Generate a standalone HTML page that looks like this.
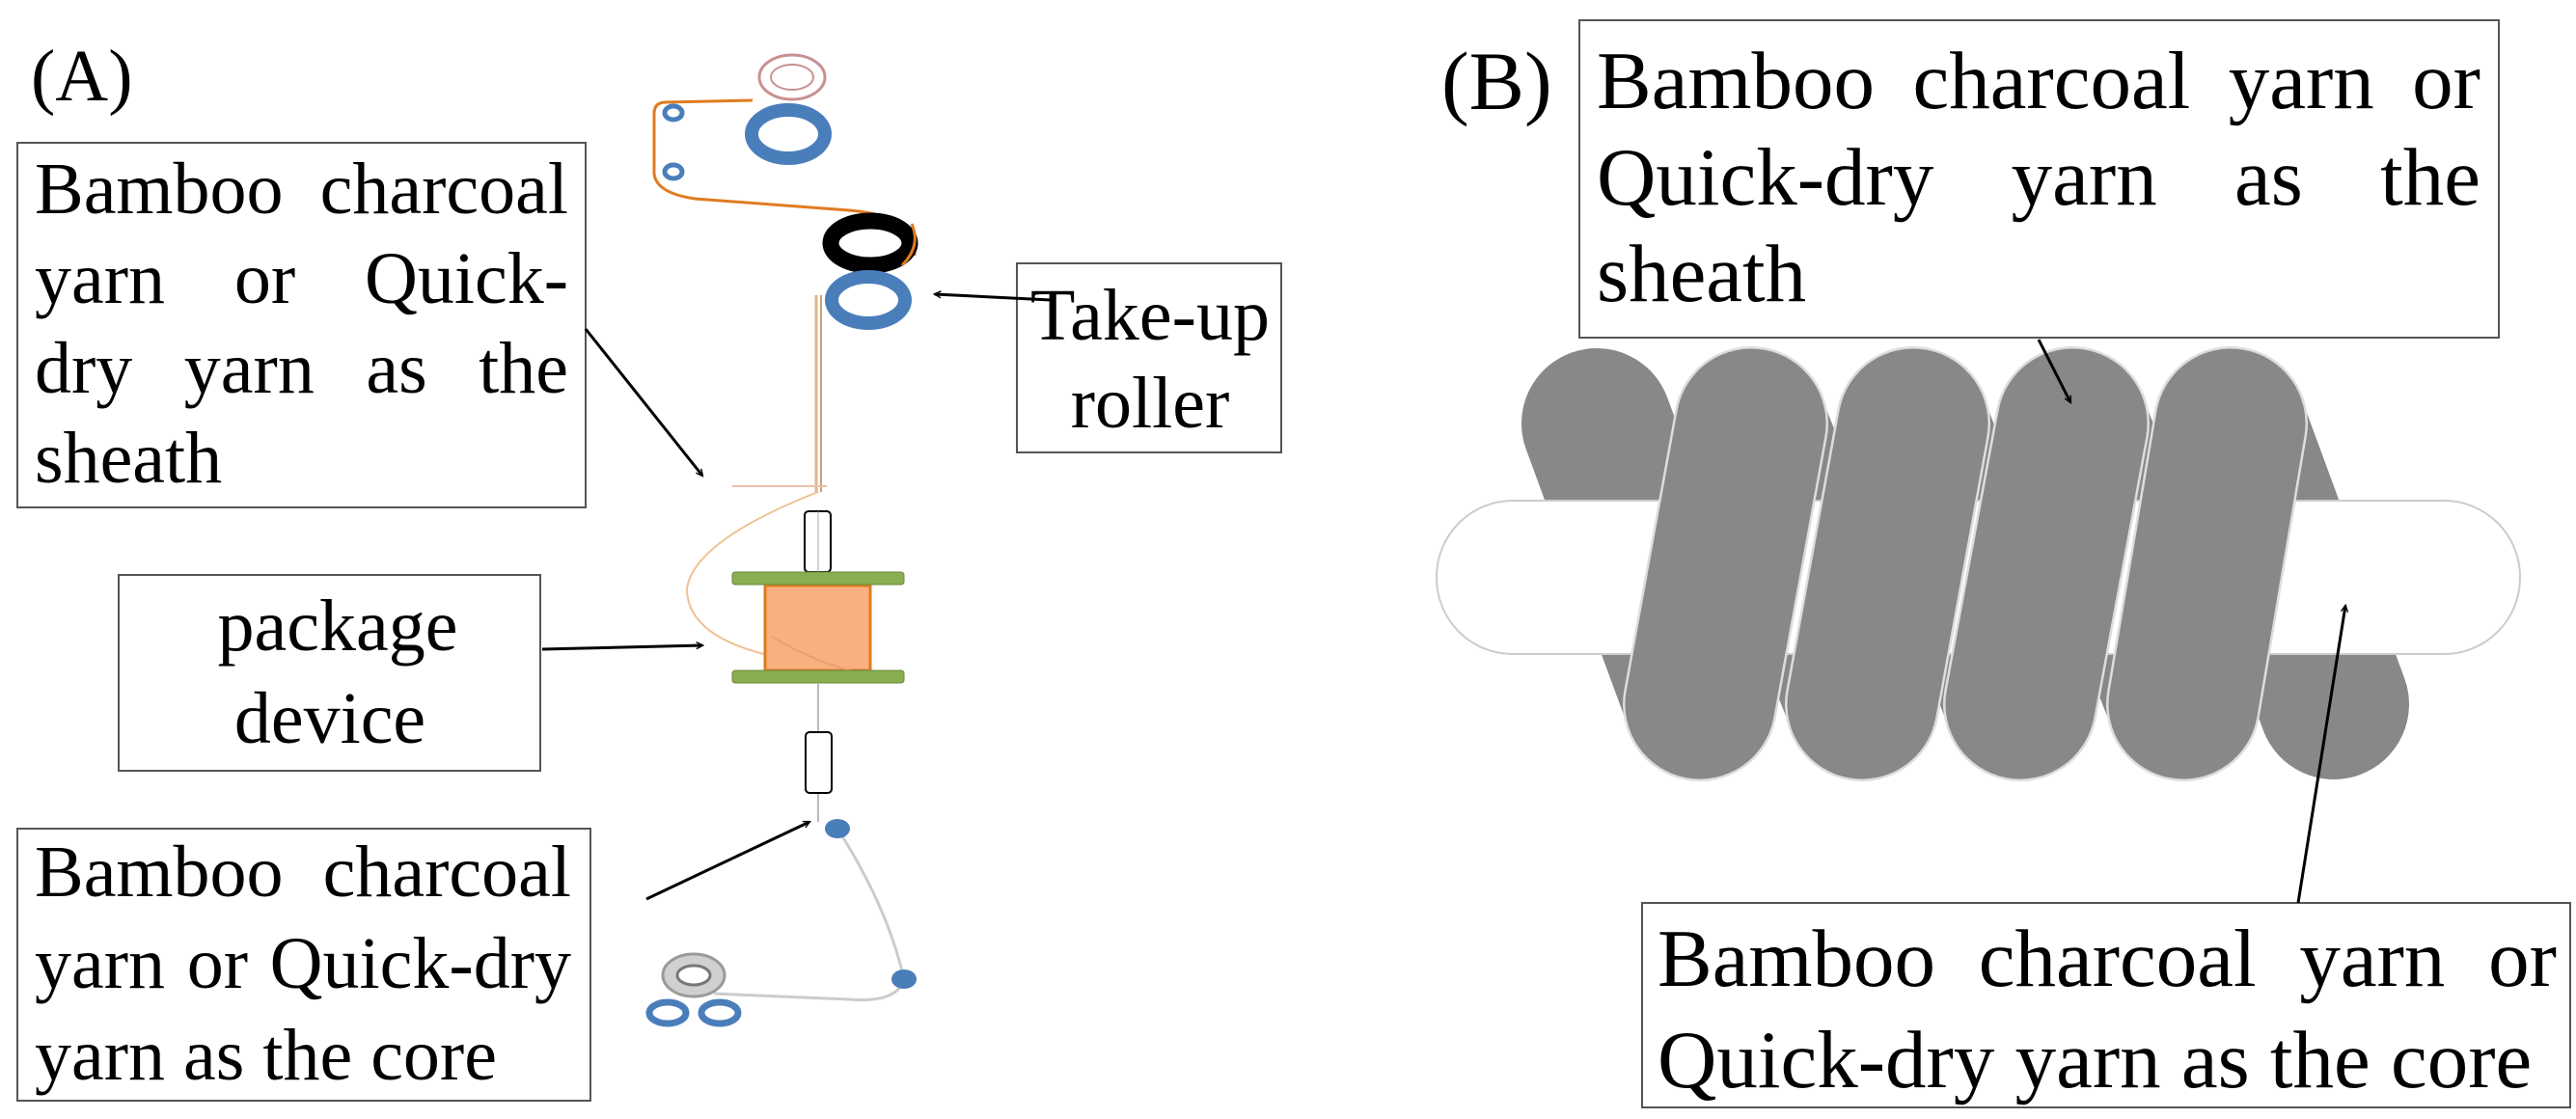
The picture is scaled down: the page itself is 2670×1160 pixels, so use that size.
<!DOCTYPE html>
<html><head><meta charset="utf-8"><style>
html,body{margin:0;padding:0;background:#fff}
body{position:relative;width:2670px;height:1160px;overflow:hidden}
svg{display:block;position:absolute;left:0;top:0}
.t{position:absolute;font-family:"Liberation Serif",serif;color:#000;white-space:normal}
.j{text-align:justify;text-align-last:justify}
.j .l{display:block}
.l{display:block}
</style></head>
<body>
<svg width="2670" height="1160" viewBox="0 0 2670 1160" xmlns="http://www.w3.org/2000/svg" font-family="'Liberation Serif', serif">
<defs>
<marker id="ah" viewBox="0 0 10 10" refX="9" refY="5" markerWidth="7" markerHeight="7" orient="auto" markerUnits="userSpaceOnUse" style="overflow:visible">
<path d="M0,0 L10,5 L0,10" fill="none" stroke="#000" stroke-width="2"/>
</marker>
</defs>
<text x="32" y="104" font-size="76">(A)</text>
<rect x="18" y="148" width="589" height="378" fill="#fff" stroke="#555" stroke-width="2"/>
<rect x="1054" y="273" width="274" height="196" fill="#fff" stroke="#555" stroke-width="2"/>
<text x="1192" y="352" font-size="76" text-anchor="middle">Take-up</text>
<text x="1192" y="443" font-size="76" text-anchor="middle">roller</text>
<rect x="123" y="596" width="437" height="203" fill="#fff" stroke="#555" stroke-width="2"/>
<text x="350" y="674" font-size="76" text-anchor="middle">package</text>
<text x="342" y="770" font-size="76" text-anchor="middle">device</text>
<rect x="18" y="859" width="594" height="282" fill="#fff" stroke="#555" stroke-width="2"/>

<path d="M780,104 L690,106 Q678,106 678,118 L678,180 Q680,200 720,206 L880,218 Q930,222 948,245 L948,265" fill="none" stroke="#e07b20" stroke-width="3"/>
<ellipse cx="821" cy="80" rx="34" ry="23" fill="none" stroke="#c89090" stroke-width="3"/>
<ellipse cx="821" cy="80" rx="22" ry="13" fill="none" stroke="#c89090" stroke-width="2"/>
<ellipse cx="817" cy="139" rx="38" ry="25" fill="none" stroke="#4a7ebb" stroke-width="14"/>
<ellipse cx="698" cy="117" rx="9" ry="7" fill="none" stroke="#4a7ebb" stroke-width="5"/>
<ellipse cx="698" cy="178" rx="9" ry="7" fill="none" stroke="#4a7ebb" stroke-width="5"/>
<ellipse cx="902" cy="252" rx="41" ry="23" fill="none" stroke="#000" stroke-width="17"/>
<path d="M945,232 Q955,255 935,275" fill="none" stroke="#e07b20" stroke-width="3"/>
<ellipse cx="900" cy="311" rx="38" ry="24" fill="none" stroke="#4a7ebb" stroke-width="14"/>
<line x1="846" y1="306" x2="846" y2="510" stroke="#e2b48c" stroke-width="3"/>
<line x1="851" y1="306" x2="851" y2="510" stroke="#caa07a" stroke-width="2"/>
<line x1="759" y1="504" x2="857" y2="504" stroke="#e8c0a8" stroke-width="2"/>
<path d="M848,510 Q720,560 712,610 Q712,660 800,680 L902,700" fill="none" stroke="#f0c090" stroke-width="2"/>
<rect x="834" y="530" width="27" height="63" rx="4" fill="#fff" stroke="#000" stroke-width="2"/>
<line x1="848" y1="530" x2="848" y2="593" stroke="#aaa" stroke-width="1"/>
<rect x="793" y="607" width="109" height="88" fill="#f8b080" stroke="#e07b20" stroke-width="3"/>
<path d="M800,660 Q850,690 902,700" fill="none" stroke="#e8a070" stroke-width="2"/>
<rect x="759" y="593" width="178" height="13" rx="3" fill="#8aad50" stroke="#6a8a3a" stroke-width="1"/>
<rect x="759" y="695" width="178" height="13" rx="3" fill="#8aad50" stroke="#6a8a3a" stroke-width="1"/>
<line x1="848" y1="708" x2="848" y2="852" stroke="#bbb" stroke-width="2"/>
<rect x="835" y="759" width="27" height="63" rx="4" fill="#fff" stroke="#000" stroke-width="2"/>
<path d="M868,859 Q920,940 937,1015 Q930,1040 880,1036 L740,1030" fill="none" stroke="#ccc" stroke-width="3"/>
<ellipse cx="868" cy="859" rx="13" ry="10" fill="#4a7ebb"/>
<ellipse cx="937" cy="1015" rx="13" ry="10" fill="#4a7ebb"/>
<ellipse cx="719" cy="1011" rx="32" ry="22" fill="#d0d0d0" stroke="#999" stroke-width="3"/>
<ellipse cx="719" cy="1011" rx="17" ry="10" fill="#fff" stroke="#777" stroke-width="3"/>
<ellipse cx="692" cy="1050" rx="19" ry="11" fill="none" stroke="#4a7ebb" stroke-width="7"/>
<ellipse cx="746" cy="1050" rx="19" ry="11" fill="none" stroke="#4a7ebb" stroke-width="7"/>

<g stroke="#000" stroke-width="3" fill="none" marker-end="url(#ah)">
<line x1="607" y1="341" x2="728" y2="493"/>
<line x1="1089" y1="311" x2="969" y2="305"/>
<line x1="562" y1="673" x2="728" y2="669"/>
<line x1="670" y1="932" x2="839" y2="852"/>
</g>

<text x="1494" y="113" font-size="86">(B)</text>
<rect x="1637" y="21" width="953" height="329" fill="#fff" stroke="#555" stroke-width="2"/>

<g stroke="#888" stroke-width="156" stroke-linecap="round" fill="none">
<line x1="1655" y1="439" x2="1762" y2="730"/>
<line x1="1815" y1="439" x2="1930" y2="730"/>
<line x1="1983" y1="439" x2="2094" y2="730"/>
<line x1="2148" y1="439" x2="2263" y2="730"/>
<line x1="2312" y1="439" x2="2419" y2="730"/>
</g>
<rect x="1489" y="519" width="1123" height="159" rx="79" fill="#fff" stroke="#ccc" stroke-width="2"/>
<g stroke-linecap="round" fill="none">
<line x1="1815" y1="439" x2="1762" y2="730" stroke="#ddd" stroke-width="160"/>
<line x1="1815" y1="439" x2="1762" y2="730" stroke="#888" stroke-width="155"/>
<line x1="1983" y1="439" x2="1930" y2="730" stroke="#ddd" stroke-width="160"/>
<line x1="1983" y1="439" x2="1930" y2="730" stroke="#888" stroke-width="155"/>
<line x1="2148" y1="439" x2="2094" y2="730" stroke="#ddd" stroke-width="160"/>
<line x1="2148" y1="439" x2="2094" y2="730" stroke="#888" stroke-width="155"/>
<line x1="2312" y1="439" x2="2263" y2="730" stroke="#ddd" stroke-width="160"/>
<line x1="2312" y1="439" x2="2263" y2="730" stroke="#888" stroke-width="155"/>
</g>

<rect x="1702" y="936" width="962" height="212" fill="#fff" stroke="#555" stroke-width="2"/>
<g stroke="#000" stroke-width="3" fill="none" marker-end="url(#ah)">
<line x1="2113" y1="352" x2="2146" y2="417"/>
<line x1="2382" y1="936" x2="2431" y2="628"/>
</g>
</svg>

<div class="t" style="left:36px;top:150px;width:553px;font-size:76px;line-height:93px">
<div class="l j">Bamboo charcoal</div>
<div class="l j">yarn or Quick-</div>
<div class="l j">dry yarn as the</div>
<div class="l">sheath</div>
</div>
<div class="t" style="left:36px;top:857px;width:556px;font-size:76px;line-height:95px">
<div class="l j">Bamboo charcoal</div>
<div class="l j">yarn or Quick-dry</div>
<div class="l">yarn as the core</div>
</div>
<div class="t" style="left:1655px;top:34px;width:916px;font-size:85px;line-height:100px">
<div class="l j">Bamboo charcoal yarn or</div>
<div class="l j">Quick-dry yarn as the</div>
<div class="l">sheath</div>
</div>
<div class="t" style="left:1718px;top:942px;width:932px;font-size:85px;line-height:105px">
<div class="l j">Bamboo charcoal yarn or</div>
<div class="l">Quick-dry yarn as the core</div>
</div>
</body></html>
